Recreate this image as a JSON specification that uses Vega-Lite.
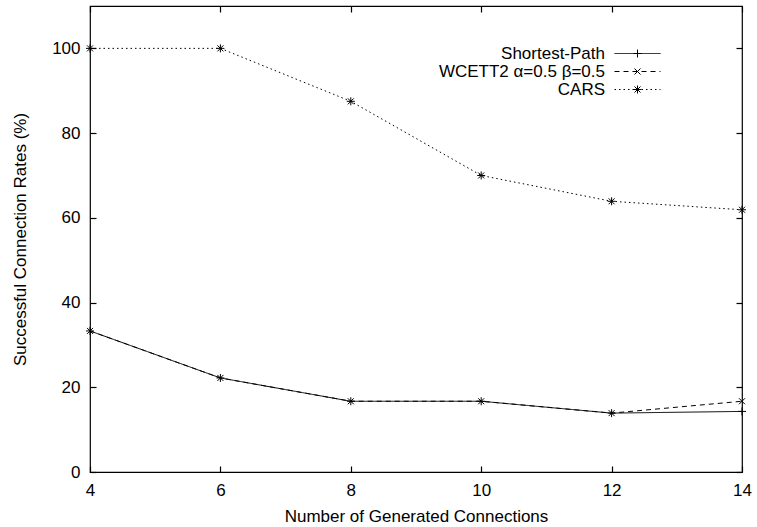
{
  "$schema": "https://vega.github.io/schema/vega-lite/v6.json",
  "width": 652,
  "height": 466,
  "autosize": "none",
  "padding": {"left": 90, "top": 6, "right": 15, "bottom": 55},
  "background": "white",
  "config": {
    "view": {"stroke": "black", "strokeWidth": 1.2},
    "font": "Liberation Sans",
    "axis": {
      "labelFont": "Liberation Sans",
      "labelFontSize": 17,
      "labelColor": "black",
      "titleFont": "Liberation Sans",
      "titleFontSize": 17,
      "titleFontWeight": "normal",
      "titleColor": "black",
      "tickColor": "black",
      "tickWidth": 1.2,
      "tickSize": 6,
      "offset": -6,
      "labelFlush": false,
      "grid": false,
      "domain": false
    },
    "legend": {
      "labelFont": "Liberation Sans",
      "labelFontSize": 17,
      "labelColor": "black",
      "labelLimit": 400
    }
  },
  "data": {
    "values": [
      {"series": "Shortest-Path", "x": 4, "y": 33.3},
      {"series": "Shortest-Path", "x": 6, "y": 22.2},
      {"series": "Shortest-Path", "x": 8, "y": 16.7},
      {"series": "Shortest-Path", "x": 10, "y": 16.7},
      {"series": "Shortest-Path", "x": 12, "y": 13.9},
      {"series": "Shortest-Path", "x": 14, "y": 14.3},
      {"series": "WCETT2 α=0.5 β=0.5", "x": 4, "y": 33.3},
      {"series": "WCETT2 α=0.5 β=0.5", "x": 6, "y": 22.2},
      {"series": "WCETT2 α=0.5 β=0.5", "x": 8, "y": 16.7},
      {"series": "WCETT2 α=0.5 β=0.5", "x": 10, "y": 16.7},
      {"series": "WCETT2 α=0.5 β=0.5", "x": 12, "y": 13.9},
      {"series": "WCETT2 α=0.5 β=0.5", "x": 14, "y": 16.7},
      {"series": "CARS", "x": 4, "y": 100},
      {"series": "CARS", "x": 6, "y": 100},
      {"series": "CARS", "x": 8, "y": 87.5},
      {"series": "CARS", "x": 10, "y": 70.0},
      {"series": "CARS", "x": 12, "y": 63.9},
      {"series": "CARS", "x": 14, "y": 61.9}
    ]
  },
  "layer": [
    {
      "mark": {"type": "line", "color": "black", "strokeWidth": 1, "clip": false},
      "encoding": {
        "x": {
          "field": "x", "type": "quantitative",
          "scale": {"domain": [4, 14], "nice": false, "zero": false},
          "axis": {"orient": "bottom", "values": [4, 6, 8, 10, 12, 14], "labelPadding": 10, "title": "Number of Generated Connections", "titlePadding": 10}
        },
        "y": {
          "field": "y", "type": "quantitative",
          "scale": {"domain": [0, 110], "nice": false},
          "axis": {"orient": "left", "values": [0, 20, 40, 60, 80, 100], "labelPadding": 10, "title": "Successful Connection Rates (%)", "titlePadding": 22}
        },
        "strokeDash": {
          "field": "series", "type": "nominal",
          "sort": ["Shortest-Path", "WCETT2 α=0.5 β=0.5", "CARS"],
          "scale": {"range": [[1, 0], [5, 4], [1.5, 3]]},
          "legend": {
            "orient": "none", "legendX": 539, "legendY": 39,
            "title": null, "padding": 0, "rowPadding": 0,
            "symbolType": "M-5.75,0L5.75,0", "symbolSize": 64,
            "symbolStrokeColor": "black", "symbolStrokeWidth": 1,
            "symbolFillColor": "transparent",
            "labelAlign": "right", "labelOffset": -41
          }
        },
        "detail": {"field": "series"}
      }
    },
    {
      "mark": {"type": "point", "filled": false, "stroke": "black", "strokeWidth": 1, "size": 64, "opacity": 1, "clip": false},
      "encoding": {
        "x": {
          "field": "x", "type": "quantitative",
          "scale": {"domain": [4, 14], "nice": false, "zero": false},
          "axis": {"orient": "top", "values": [4, 6, 8, 10, 12, 14], "labels": false, "title": null}
        },
        "y": {
          "field": "y", "type": "quantitative",
          "scale": {"domain": [0, 110], "nice": false},
          "axis": {"orient": "right", "values": [0, 20, 40, 60, 80, 100], "labels": false, "title": null}
        },
        "shape": {
          "field": "series", "type": "nominal",
          "scale": {
            "domain": ["Shortest-Path", "WCETT2 α=0.5 β=0.5", "CARS"],
            "range": [
              "M-1,0L1,0M0,-1L0,1",
              "M-0.75,-0.75L0.75,0.75M-0.75,0.75L0.75,-0.75",
              "M-1,0L1,0M0,-1L0,1M-0.75,-0.75L0.75,0.75M-0.75,0.75L0.75,-0.75"
            ]
          },
          "legend": {
            "orient": "none", "legendX": 539, "legendY": 39,
            "title": null, "padding": 0, "rowPadding": 0,
            "symbolSize": 64,
            "symbolStrokeColor": "black", "symbolStrokeWidth": 1,
            "symbolFillColor": "transparent",
            "labelAlign": "left", "labelOffset": 40, "labelExpr": "' '"
          }
        }
      }
    }
  ],
  "resolve": {"scale": {"x": "independent", "y": "independent"}}
}
